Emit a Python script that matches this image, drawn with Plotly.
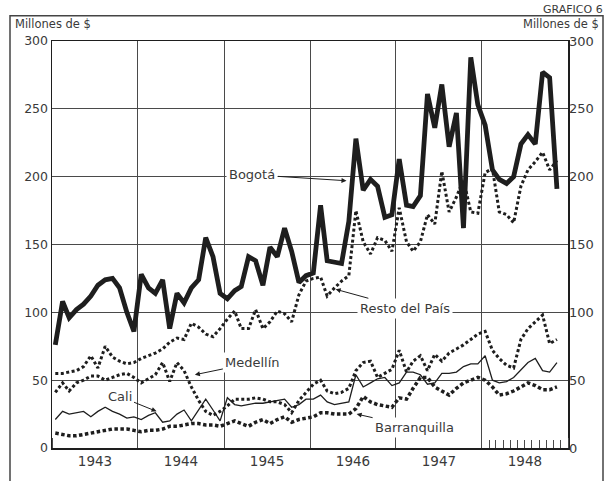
import pandas as pd
import plotly.graph_objects as go

# ---------------- data (millones de $, monthly Jan 1943 - Nov 1948) ----------------
start_month = "1943-01-01"
n_months = 71

bogota = [76, 108, 96, 102, 106, 112, 120, 124, 125, 118, 100, 86,
          128, 118, 114, 124, 88, 114, 107, 118, 124, 155, 141, 114,
          110, 116, 119, 141, 138, 120, 148, 141, 162, 145, 122, 127,
          129, 179, 138, 137, 136, 167, 228, 190, 198, 193, 170, 172,
          213, 179, 178, 186, 261, 236, 268, 222, 247, 162, 288, 253,
          238, 205, 198, 195, 200, 224, 231, 224, 277, 273, 191]

resto = [55, 55, 56, 57, 60, 68, 59, 75, 67, 64, 62, 63,
         66, 68, 70, 73, 78, 81, 80, 92, 89, 84, 82, 88,
         95, 101, 88, 88, 102, 88, 93, 101, 99, 93, 113, 123,
         125, 126, 112, 118, 123, 127, 175, 152, 143, 155, 153, 145,
         177, 152, 145, 152, 172, 165, 204, 174, 185, 198, 174, 173,
         203, 206, 174, 172, 166, 193, 205, 211, 218, 205, 212]

medellin = [41, 48, 42, 48, 50, 53, 53, 50, 52, 54, 55, 52,
            48, 51, 54, 63, 49, 63, 57, 45, 35, 27, 24, 27,
            31, 36, 36, 36, 37, 36, 34, 34, 32, 26, 35, 41,
            47, 50, 42, 40, 41, 44, 57, 63, 64, 52, 55, 58,
            72, 56, 64, 68, 57, 69, 64, 70, 73, 76, 80, 84,
            86, 72, 66, 61, 59, 80, 88, 93, 98, 77, 80]

cali = [21, 27, 25, 26, 27, 23, 27, 30, 27, 25, 22, 23,
        21, 24, 26, 19, 20, 25, 28, 20, 28, 36, 28, 20,
        37, 32, 31, 32, 33, 33, 34, 35, 36, 30, 32, 36,
        36, 39, 34, 32, 33, 34, 54, 45, 48, 51, 52, 46,
        48, 56, 56, 54, 47, 48, 55, 55, 56, 60, 62, 62,
        68, 50, 48, 49, 52, 58, 63, 66, 57, 56, 63]

barranquilla = [11, 10, 9, 9, 10, 11, 12, 13, 14, 14, 14, 13,
                12, 13, 13, 14, 16, 16, 17, 18, 18, 17, 17, 16,
                18, 20, 18, 16, 19, 21, 18, 21, 23, 19, 21, 22,
                23, 26, 26, 25, 25, 25, 29, 38, 34, 32, 31, 30,
                37, 36, 44, 52, 52, 45, 42, 39, 44, 48, 50, 52,
                50, 45, 39, 40, 42, 45, 48, 46, 43, 43, 45]

y_ticks = [0, 50, 100, 150, 200, 250, 300]
y_tick_labels = ["0", "50", "100", "150", "200", "250", "300"]
x_range = ["1943-01-01", "1949-01-01"]
month_ticks_1948 = ["1948-%02d-01" % m for m in range(2, 13)]

dates = pd.date_range(start_month, periods=n_months, freq="MS") + pd.Timedelta(days=14)

INK = "#1e1e1e"
GRID = "#4a4a4a"
TXT = "#3a3a3a"
FONT = "DejaVu Sans"

fig = go.Figure()
fig.add_trace(go.Scatter(x=dates, y=resto, mode="lines", name="Resto del País",
                         line=dict(color=INK, width=3, dash="3px,2.5px")))
fig.add_trace(go.Scatter(x=dates, y=medellin, mode="lines", name="Medellín",
                         line=dict(color=INK, width=3, dash="3px,2.5px")))
fig.add_trace(go.Scatter(x=dates, y=cali, mode="lines", name="Cali", xaxis="x2",
                         line=dict(color=INK, width=1.3)))
fig.add_trace(go.Scatter(x=dates, y=barranquilla, mode="lines", name="Barranquilla", yaxis="y2",
                         line=dict(color=INK, width=3.5, dash="3.5px,2.5px")))
fig.add_trace(go.Scatter(x=dates, y=bogota, mode="lines", name="Bogotá", yaxis="y2",
                         line=dict(color=INK, width=4.8)))

W, H = 607, 481
L, R, T, B = 52, 39, 41, 21
pw, ph = W - L - R, H - T - B


def px(xp):
    return (xp - L) / pw


def py(yp):
    return (H - B - yp) / ph


fig.update_layout(
    width=W, height=H,
    margin=dict(l=L, r=R, t=T, b=B),
    paper_bgcolor="white", plot_bgcolor="white",
    showlegend=False,
    font=dict(family=FONT, color=TXT, size=12),
    xaxis=dict(type="date", range=x_range, tick0="1943-01-01", dtick="M12",
               tickformat="%Y", ticklabelmode="period",
               showgrid=True, gridcolor=GRID, gridwidth=1,
               ticks="inside", ticklen=10, tickcolor=GRID,
               showline=True, linecolor=INK, linewidth=1.5, mirror=True,
               tickfont=dict(size=13.5, color=TXT), zeroline=False),
    xaxis2=dict(type="date", range=x_range, overlaying="x", anchor="y", side="bottom",
                tickmode="array", tickvals=month_ticks_1948,
                ticks="inside", ticklen=8, tickcolor=GRID,
                showticklabels=False, showgrid=False, showline=False, zeroline=False),
    yaxis=dict(range=[0, 300], tickmode="array", tickvals=y_ticks, ticktext=y_tick_labels,
               showgrid=True, gridcolor=GRID, gridwidth=1, ticks="",
               showline=True, linecolor=INK, linewidth=1.5, mirror=True,
               zeroline=False, tickfont=dict(size=12.5, color=TXT)),
    yaxis2=dict(range=[0, 300], overlaying="y", side="right", tickmode="array",
                tickvals=y_ticks, ticktext=y_tick_labels,
                showgrid=False, zeroline=False, showline=False, ticks="",
                tickfont=dict(size=13, color=TXT)),
)

annotations = [
    dict(text="Millones de $", xref="paper", yref="paper", x=px(13), y=py(24),
         xanchor="left", yanchor="middle", showarrow=False, font=dict(size=11.5, color=TXT)),
    dict(text="Millones de $", xref="paper", yref="paper", x=px(601), y=py(24),
         xanchor="right", yanchor="middle", showarrow=False, font=dict(size=11.5, color=TXT)),
    dict(text="GRAFICO 6", xref="paper", yref="paper", x=px(605), y=py(0),
         xanchor="right", yanchor="top", showarrow=False, font=dict(size=11, color=TXT)),
]

labels = [
    # text, arrow-head (date, value), text offset (px)
    ("Bogotá", "1946-06-05", 197, -94, -6),
    ("Resto del País", "1946-04-20", 117, 69, 19),
    ("Medellín", "1944-08-30", 54, 58, -12),
    ("Cali", "1944-03-20", 27, -37, -15),
    ("Barranquilla", "1946-07-18", 25, 58, 13),
]
for txt, xd, yv, ax, ay in labels:
    annotations.append(dict(text=txt, x=xd, y=yv, xref="x", yref="y", ax=ax, ay=ay,
                            showarrow=True, arrowhead=2, arrowsize=1, arrowwidth=1,
                            arrowcolor=INK, standoff=0, bgcolor="white", borderpad=2,
                            font=dict(size=13, color=TXT)))
fig.update_layout(annotations=annotations)

fig.add_shape(type="rect", xref="paper", yref="paper",
              x0=px(10), x1=px(603), y0=py(495), y1=py(15),
              line=dict(color="#444", width=1.5), layer="below")

fig.write_html("out.html",
               config={"displayModeBar": False, "staticPlot": True},
               post_script="document.body.style.margin='0';document.body.style.padding='0';")
